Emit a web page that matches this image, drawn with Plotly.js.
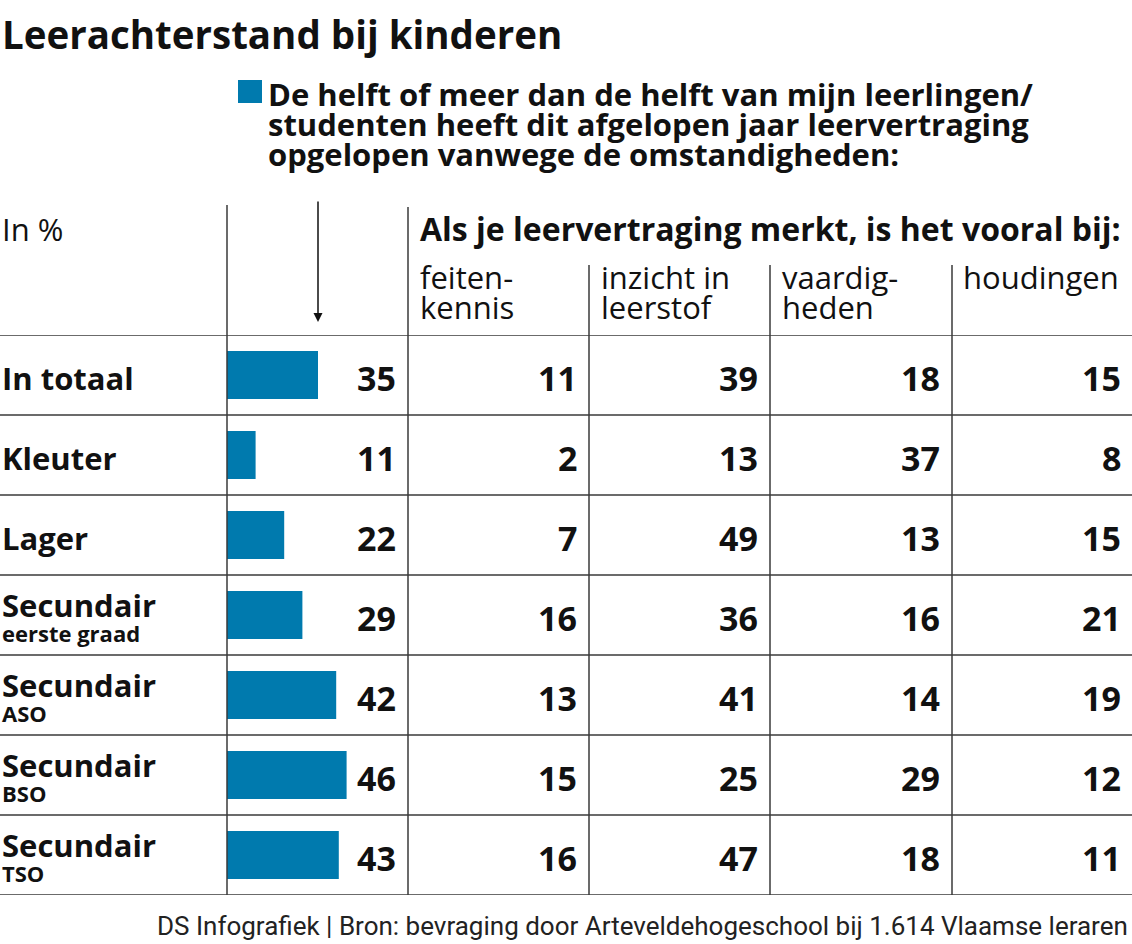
<!DOCTYPE html>
<html>
<head>
<meta charset="utf-8">
<script src="https://cdn.plot.ly/plotly-3.0.1.min.js"></script>
<style>html,body{margin:0;padding:0;background:#fff;}#chart{width:1132px;height:944px;}</style>
</head>
<body>
<div id="chart"></div>
<script>
// ---- data ----
const categories = ["In totaal","Kleuter","Lager","Secundair eerste graad","Secundair ASO","Secundair BSO","Secundair TSO"];
const labelMain = ["In totaal","Kleuter","Lager","Secundair","Secundair","Secundair","Secundair"];
const labelSub = ["","","","eerste graad","ASO","BSO","TSO"];
const helft = [35,11,22,29,42,46,43];
const feitenkennis = [11,2,7,16,13,15,16];
const inzicht = [39,13,49,36,41,25,47];
const vaardigheden = [18,37,13,16,14,29,18];
const houdingen = [15,8,15,21,19,12,11];
const columnHeaders = [["feiten-","kennis"],["inzicht in","leerstof"],["vaardig-","heden"],["houdingen"]];
const legendLines = ["De helft of meer dan de helft van mijn leerlingen/","studenten heeft dit afgelopen jaar leervertraging","opgelopen vanwege de omstandigheden:"];

const W = 1132, H = 944;
const px = x => x / W;
const py = y => 1 - y / H;
const FONT = "'Open Sans', Roboto, sans-serif";
const BLUE = "#007aae";
const LINE = "#3a3a3a";
const sp = (t,s,b) => '<span style="font-size:'+s+'px">'+(b?'<b>'+t+'</b>':t)+'</span>';

const annotations = [];
const shapes = [];

// title
annotations.push({xref:'paper',yref:'paper',x:px(0),y:py(34),xanchor:'left',yanchor:'middle',showarrow:false,
  text:'<b>Leerachterstand bij kinderen</b>',font:{family:FONT,size:38.5,color:'#111'}});
// legend text
annotations.push({xref:'paper',yref:'paper',x:px(266),y:py(124),xanchor:'left',yanchor:'middle',showarrow:false,align:'left',
  text:legendLines.map(l=>sp(l,31,true)).join('<br>'),
  font:{family:FONT,size:23,color:'#111'}});
shapes.push({type:'rect',xref:'paper',yref:'paper',x0:px(238),x1:px(262),y0:py(80),y1:py(103),fillcolor:BLUE,line:{width:0}});

// header
annotations.push({xref:'paper',yref:'paper',x:px(0),y:py(229),xanchor:'left',yanchor:'middle',showarrow:false,
  text:'In %',font:{family:FONT,size:31,color:'#111'}});
annotations.push({xref:'paper',yref:'paper',x:px(418),y:py(229),xanchor:'left',yanchor:'middle',showarrow:false,
  text:'<b>Als je leervertraging merkt, is het vooral bij:</b>',font:{family:FONT,size:32,color:'#111'}});
const colLeft = [418, 599, 780, 961];
columnHeaders.forEach((t,i)=>{
  annotations.push({xref:'paper',yref:'paper',x:px(colLeft[i]),y:py(t.length>1?292:277),xanchor:'left',yanchor:'middle',showarrow:false,align:'left',
    text:t.map(l=>sp(l,31,false)).join('<br>'),font:{family:FONT,size:23,color:'#111'}});
});
// arrow
annotations.push({xref:'paper',yref:'paper',x:px(318),y:py(322),axref:'pixel',ayref:'pixel',ax:0,ay:-122,
  showarrow:true,arrowhead:2,arrowsize:1.2,arrowwidth:1.5,arrowcolor:'#111',text:''});

// rows
categories.forEach((c,i)=>{
  if (labelSub[i]) {
    annotations.push({xref:'paper',yref:'y',x:px(0),y:c,xanchor:'left',yanchor:'middle',yshift:-1,showarrow:false,align:'left',
      text:sp(labelMain[i],31,true)+'<br>'+sp(labelSub[i],22,true),font:{family:FONT,size:19,color:'#111'}});
  } else {
    annotations.push({xref:'paper',yref:'y',x:px(0),y:c,xanchor:'left',yanchor:'middle',yshift:-3,showarrow:false,
      text:'<b>'+labelMain[i]+'</b>',font:{family:FONT,size:31,color:'#111'}});
  }
  const vals = [helft[i],feitenkennis[i],inzicht[i],vaardigheden[i],houdingen[i]];
  const rights = [398,579,760,942,1123];
  vals.forEach((v,j)=>{
    annotations.push({xref:'paper',yref:'y',x:px(rights[j]),y:c,xanchor:'right',yanchor:'middle',yshift:-3,showarrow:false,
      text:'<b>'+v+'</b>',font:{family:FONT,size:34,color:'#111'}});
  });
});

// grid lines
shapes.push({type:'line',xref:'paper',yref:'y',x0:0,x1:1,y0:-0.5,y1:-0.5,line:{color:LINE,width:1.5}});
for (let k=0;k<categories.length;k++){
  shapes.push({type:'line',xref:'paper',yref:'y',x0:0,x1:1,y0:k+0.5,y1:k+0.5,line:{color:LINE,width:1.5}});
}
shapes.push({type:'line',xref:'paper',yref:'paper',x0:px(227),x1:px(227),y0:py(205),y1:py(895),line:{color:LINE,width:1.5}});
shapes.push({type:'line',xref:'paper',yref:'paper',x0:px(408),x1:px(408),y0:py(207),y1:py(895),line:{color:LINE,width:1.5}});
[589,770,952].forEach(x=>{
  shapes.push({type:'line',xref:'paper',yref:'paper',x0:px(x),x1:px(x),y0:py(265),y1:py(895),line:{color:LINE,width:1.5}});
});

// footer
annotations.push({xref:'paper',yref:'paper',x:px(1130),y:py(926),xanchor:'right',yanchor:'middle',showarrow:false,
  text:'DS Infografiek | Bron: bevraging door Arteveldehogeschool bij 1.614 Vlaamse leraren',
  font:{family:"Roboto, sans-serif",size:26,color:'#222'}});

const trace = {
  type:'bar', orientation:'h', x:helft, y:categories, width:0.6,
  marker:{color:BLUE,line:{width:0}}, hoverinfo:'skip'
};

const layout = {
  width:W, height:H, margin:{l:0,r:0,t:0,b:0},
  paper_bgcolor:'#fff', plot_bgcolor:'rgba(0,0,0,0)',
  showlegend:false,
  xaxis:{domain:[px(227),px(408)],range:[0,181/2.6],showgrid:false,zeroline:false,showticklabels:false,showline:false,fixedrange:true},
  yaxis:{domain:[py(895),py(335)],type:'category',range:[6.5,-0.5],autorange:false,showgrid:false,zeroline:false,showticklabels:false,showline:false,fixedrange:true},
  annotations:annotations, shapes:shapes
};

Plotly.newPlot('chart',[trace],layout,{staticPlot:true,displayModeBar:false});
</script>
</body>
</html>
